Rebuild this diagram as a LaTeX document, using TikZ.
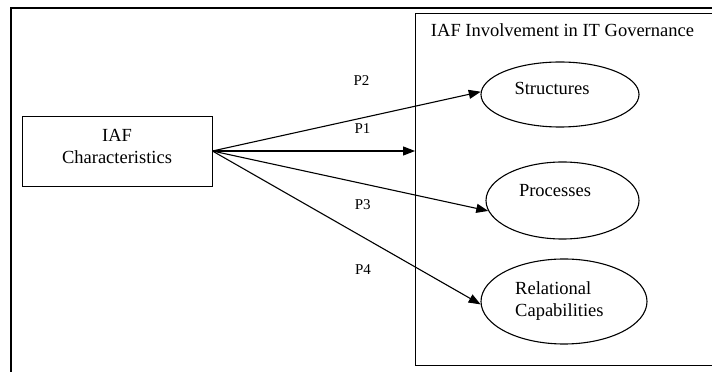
\documentclass[tikz,border=0pt]{standalone}
\usepackage{fontspec}
\setmainfont{Liberation Serif}
\usetikzlibrary{arrows.meta,shapes.geometric}
\begin{document}
\begin{tikzpicture}[x=1pt,y=1pt,
  txt/.style={font=\fontsize{18.5}{22.3}\selectfont, inner sep=0pt},
  plabel/.style={font=\fontsize{15}{18}\selectfont, inner sep=0pt},
  boxnode/.style={draw, line width=0.9pt, inner sep=0pt},
  ell/.style={draw, ellipse, line width=1.1pt, inner sep=0pt},
  link/.style={line width=1.1pt, -{Triangle[length=12pt,width=9pt]}},
  frame/.style={line width=2.4pt}]
\useasboundingbox (0,0) rectangle (712,372);
\clip (0,0) rectangle (712,372);
\fill[white] (0,0) rectangle (712,372);
% outer frame
\draw[frame] (11,-5) -- (11,363.7) -- (725,363.7);
% IT governance panel
\node[boxnode, minimum width=309.5pt, minimum height=352.5pt] (gov) at (570.25,182.75) {};
\node[txt] (govtitle) at (562.5,342) {IAF Involvement in IT Governance};
% source box
\node[boxnode, minimum width=190pt, minimum height=70pt] (iaf) at (117,221) {};
\node[txt, align=center] (iaftext) at (117,225.3) {IAF\\Characteristics};
% outcome ellipses
\node[ell, minimum width=158pt, minimum height=65pt] (str) at (560,277.5) {};
\node[txt] (strtext) at (552,284) {Structures};
\node[ell, minimum width=153pt, minimum height=77pt] (proc) at (562.5,171.5) {};
\node[txt] (proctext) at (555,181) {Processes};
\node[ell, minimum width=166pt, minimum height=85pt] (rel) at (564,70.5) {};
\node[txt, align=left, anchor=west] (reltext) at (515,70.8) {Relational\\Capabilities};
% propositions
\draw[link] (iaf.east) -- (str.178);
\draw[link] (iaf.east) -- (iaf.east -| gov.west);
\draw[link] (iaf.east) -- (proc.188);
\draw[link] (iaf.east) -- (rel.182);
\node[plabel] (p2) at (361.5,291.5) {P2};
\node[plabel] (p1) at (362.5,243.7) {P1};
\node[plabel] (p3) at (362.7,167.3) {P3};
\node[plabel] (p4) at (363,102.7) {P4};
\end{tikzpicture}
\end{document}
